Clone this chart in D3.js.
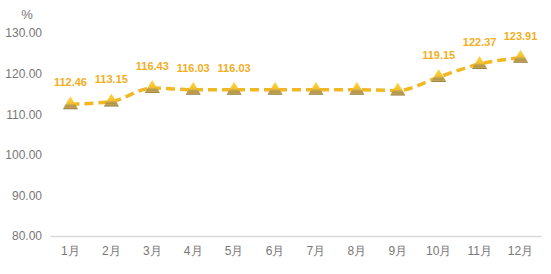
<!DOCTYPE html>
<html>
<head>
<meta charset="utf-8">
<script src="https://cdn.jsdelivr.net/npm/d3@7"></script>
<style>
  html, body { margin: 0; padding: 0; background: #fff; }
  svg { display: block; font-family: "Liberation Sans", Arial, sans-serif; }
</style>
</head>
<body>
<svg id="chart" width="551" height="274"></svg>
<script>
// Monthly index values (%)
const months = ["1月", "2月", "3月", "4月", "5月", "6月", "7月", "8月", "9月", "10月", "11月", "12月"];
const values = [112.46, 113.15, 116.43, 116.03, 116.03, 116.03, 116.03, 116.03, 115.83, 119.15, 122.37, 123.91];
// Months whose value is printed above the marker
const labelled = [true, true, true, true, true, false, false, false, false, true, true, true];
const yTicks = [80, 90, 100, 110, 120, 130];
const unitLabel = "%";

const svg = d3.select("#chart");
const margin = { left: 50, right: 10, top: 33, bottom: 38 };
const W = 551, H = 274;

const x = d3.scaleBand().domain(months).range([margin.left, W - margin.right]);
const y = d3.scaleLinear().domain([80, 130]).range([H - margin.bottom, margin.top]);

const lineColor = "#f2b824";
const labelColor = "#f2ae1e";
const axisText = "#777";

// Y axis tick labels
const yAxis = svg.append("g")
  .attr("transform", `translate(${margin.left - 8},0)`)
  .call(d3.axisLeft(y).tickValues(yTicks).tickFormat(d3.format(".2f")).tickSize(0).tickPadding(0));
yAxis.select(".domain").remove();
yAxis.selectAll("text").attr("fill", axisText).style("font-size", "12px");

// Unit label
svg.append("text")
  .attr("x", 27).attr("y", 19)
  .attr("text-anchor", "middle")
  .attr("fill", axisText)
  .style("font-size", "13px")
  .text(unitLabel);

// X axis
const xAxis = svg.append("g")
  .attr("transform", `translate(0,${y(80)})`)
  .call(d3.axisBottom(x).tickSize(0).tickPadding(10));
xAxis.select(".domain").attr("stroke", "#d9d9d9").attr("stroke-width", 1.5);
xAxis.selectAll("text").attr("fill", axisText).style("font-size", "12px");

const cx = d => x(d) + x.bandwidth() / 2;
const data = months.map((m, i) => ({ m, v: values[i], show: labelled[i] }));

// Dashed curve
const line = d3.line().x(d => cx(d.m)).y(d => y(d.v)).curve(d3.curveMonotoneX);
svg.append("path")
  .datum(data)
  .attr("d", line)
  .attr("fill", "none")
  .attr("stroke", lineColor)
  .attr("stroke-width", 3.5)
  .attr("stroke-dasharray", "9,5");

// Marker shading
const defs = svg.append("defs");
const grad = defs.append("linearGradient")
  .attr("id", "pyramid").attr("x1", 0).attr("y1", 0).attr("x2", 0).attr("y2", 1);
[["0%", "#ffd845"], ["56%", "#f5c02a"], ["60%", "#d8b248"], ["78%", "#b09448"], ["88%", "#c4a654"], ["100%", "#8a7438"]]
  .forEach(([o, c]) => grad.append("stop").attr("offset", o).attr("stop-color", c));

// Triangle markers with a wider base band
const markers = svg.append("g").selectAll("g").data(data).join("g")
  .attr("transform", d => `translate(${cx(d.m)},${y(d.v)})`);
markers.append("path")
  .attr("d", "M0,-8 L6,2 L7.5,5 L-7.5,5 L-6,2 Z")
  .attr("fill", "url(#pyramid)");

// Value labels
svg.append("g").selectAll("text").data(data.filter(d => d.show)).join("text")
  .attr("x", d => cx(d.m))
  .attr("y", d => y(d.v) - 18)
  .attr("text-anchor", "middle")
  .attr("fill", labelColor)
  .style("font-size", "11px")
  .style("font-weight", "bold")
  .text(d => d.v.toFixed(2));
</script>
</body>
</html>
